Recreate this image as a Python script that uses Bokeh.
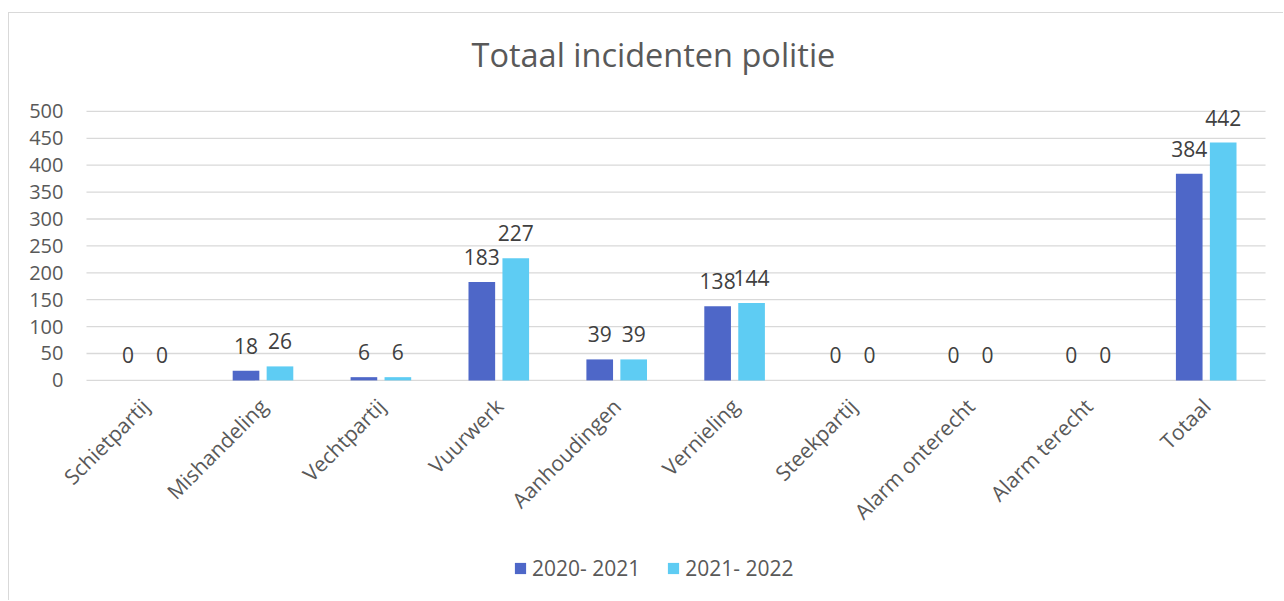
import math
from bokeh.plotting import figure
from bokeh.models import ColumnDataSource, Legend, LegendItem, Label, FixedTicker, Range1d
from bokeh.transform import dodge
from bokeh.core.properties import value
from bokeh.embed import file_html
from bokeh.resources import INLINE

categories = ["Schietpartij", "Mishandeling", "Vechtpartij", "Vuurwerk", "Aanhoudingen",
              "Vernieling", "Steekpartij", "Alarm onterecht", "Alarm terecht", "Totaal"]
series_2020_2021 = [0, 18, 6, 183, 39, 138, 0, 0, 0, 384]
series_2021_2022 = [0, 26, 6, 227, 39, 144, 0, 0, 0, 442]
series_names = ["2020- 2021", "2021- 2022"]
y_ticks = [0, 50, 100, 150, 200, 250, 300, 350, 400, 450, 500]
title_text = "Totaal incidenten politie"

DARK = "#4E67C8"
LIGHT = "#5ECCF3"
FONT = "Open Sans"

# category slot centres on a linear scale (one unit per category)
n_cat = len(categories)
xpos = [i + 0.5 for i in range(n_cat)]

src = ColumnDataSource(dict(
    xpos=xpos,
    a=series_2020_2021,
    b=series_2021_2022,
    a_txt=[str(v) for v in series_2020_2021],
    b_txt=[str(v) for v in series_2021_2022],
))

# the frame spans the whole canvas; axes are pinned inside it
p = figure(x_range=Range1d(-0.653, n_cat + 0.161), y_range=Range1d(-411, 682),
           width=1275, height=588, output_backend="svg", toolbar_location=None,
           min_border_left=0, min_border_right=0, min_border_top=0, min_border_bottom=0)
p.margin = (12, 0, 0, 8)
p.styles = {"border-top": "1px solid #d9d9d9", "border-left": "1px solid #d9d9d9"}
p.outline_line_color = None
p.background_fill_color = "white"
p.border_fill_color = "white"

# horizontal gridlines limited to the category area
p.segment(x0=[0] * len(y_ticks), x1=[n_cat] * len(y_ticks), y0=y_ticks, y1=y_ticks,
          line_color="#d9d9d9", line_width=1.3)
p.xgrid.grid_line_color = None
p.ygrid.grid_line_color = None

ra = p.vbar(x=dodge("xpos", -0.147), top="a", width=0.226, source=src,
            fill_color=DARK, line_color=None)
rb = p.vbar(x=dodge("xpos", 0.141), top="b", width=0.226, source=src,
            fill_color=LIGHT, line_color=None)

p.text(x=dodge("xpos", -0.147), y="a", text="a_txt", source=src,
       text_align="center", text_baseline="alphabetic", y_offset=-25,
       text_font=value(FONT), text_font_size="21px", text_color="#404040")
p.text(x=dodge("xpos", 0.141), y="b", text="b_txt", source=src,
       text_align="center", text_baseline="alphabetic", y_offset=-25,
       text_font=value(FONT), text_font_size="21px", text_color="#404040")

# category axis pinned at value 0
p.xaxis.fixed_location = 0
p.xaxis.ticker = FixedTicker(ticks=xpos)
p.xaxis.major_label_overrides = {x: c for x, c in zip(xpos, categories)}
p.xaxis.axis_line_color = None
p.xaxis.major_tick_line_color = None
p.xaxis.major_tick_out = 0
p.xaxis.major_tick_in = 0
p.xaxis.minor_tick_line_color = None
p.xaxis.major_label_orientation = math.pi / 4
p.xaxis.major_label_standoff = 22
p.xaxis.major_label_text_font = FONT
p.xaxis.major_label_text_font_size = "21px"
p.xaxis.major_label_text_color = "#595959"

# value axis pinned at the left edge of the first category
p.yaxis.fixed_location = 0
p.yaxis.ticker = FixedTicker(ticks=y_ticks)
p.yaxis.axis_line_color = None
p.yaxis.major_tick_line_color = None
p.yaxis.major_tick_out = 0
p.yaxis.major_tick_in = 0
p.yaxis.minor_tick_line_color = None
p.yaxis.major_label_standoff = 23
p.yaxis.major_label_text_font = FONT
p.yaxis.major_label_text_font_size = "20px"
p.yaxis.major_label_text_color = "#595959"

title = Label(x=462, y=547, x_units="screen", y_units="screen", text=title_text,
              text_align="left", text_baseline="alphabetic",
              text_font=FONT, text_font_size="32.5px", text_color="#595959")
p.add_layout(title)

legend = Legend(items=[LegendItem(label=series_names[0], renderers=[ra]),
                       LegendItem(label=series_names[1], renderers=[rb])],
                orientation="horizontal", location=(504, 19),
                glyph_width=14, glyph_height=14, label_standoff=5, spacing=26,
                padding=0, margin=0, border_line_color=None, background_fill_alpha=0,
                label_text_font=FONT, label_text_font_size="21px", label_text_color="#595959",
                label_height=20)
p.add_layout(legend, "center")

open("out.html", "w").write(file_html(p, INLINE))
